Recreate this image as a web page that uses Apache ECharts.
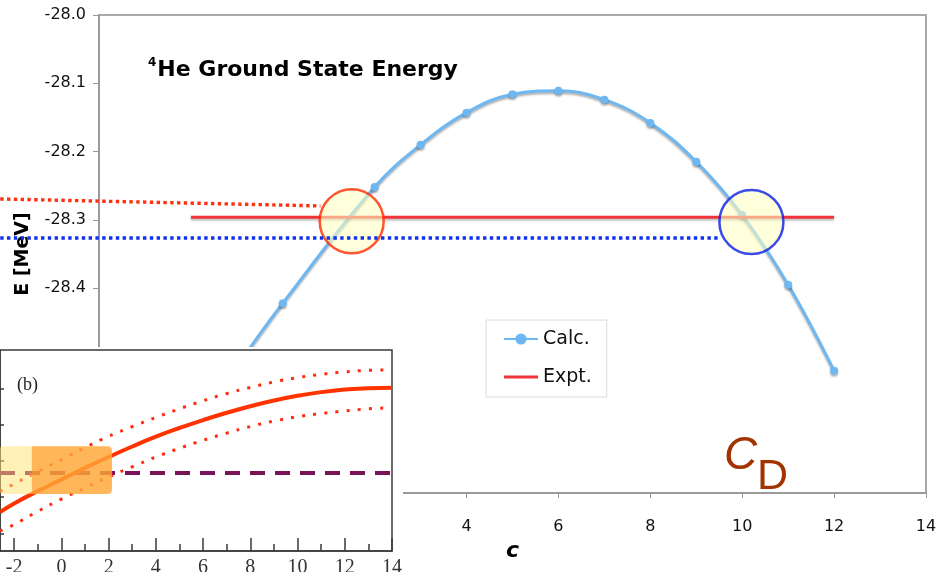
<!DOCTYPE html>
<html>
<head>
<meta charset="utf-8">
<script src="https://cdn.jsdelivr.net/npm/echarts@6/dist/echarts.min.js"></script>
<style>
  html, body { margin: 0; padding: 0; background: #fff; }
  #chart { width: 944px; height: 572px; }
</style>
</head>
<body>
<div id="chart"></div>
<script>
// ---- Main panel: 4He ground-state energy versus c ----
const cValues   = [-1, 0, 2, 3, 4, 5, 6, 7, 8, 9, 10, 11, 12];
const calcEnergy = [-28.515, -28.422, -28.252, -28.190, -28.143, -28.116, -28.111,
                    -28.124, -28.158, -28.215, -28.293, -28.395, -28.521];
const exptC      = [-2, 12];
const exptEnergy = -28.296;

const mainXTicks = [-4, -2, 0, 2, 4, 6, 8, 10, 12, 14];
const mainYTicks = [-28.7, -28.6, -28.5, -28.4, -28.3, -28.2, -28.1, -28.0];

// highlighted crossings of the calculation with experiment
const crossC = [1.50, 10.20];
const crossE = [-28.302, -28.303];

// dotted guide lines running off to the left edge of the page
const redGuideC  = [-6.15, 0.82];
const redGuideE  = [-28.2694, -28.2796];
const blueGuideC = [-6.15, 9.53];
const blueGuideE = [-28.3265, -28.3265];

// ---- Inset panel (b) ----
const insetC     = [-2.6, -2, -1, 0, 1, 2, 3, 4, 5, 6, 7, 8, 9, 10, 11, 12, 13, 14];
const insetMain  = [-1.41, -1.17, -0.83, -0.51, -0.19, 0.11, 0.40, 0.67, 0.91, 1.13,
                    1.33, 1.51, 1.67, 1.80, 1.90, 1.97, 2.01, 2.02];
const insetUpper = [-0.84, -0.63, -0.29, 0.04, 0.37, 0.68, 0.95, 1.20, 1.44, 1.66,
                    1.86, 2.03, 2.18, 2.30, 2.39, 2.46, 2.50, 2.51];
const insetLower = [-1.93, -1.75, -1.39, -1.05, -0.74, -0.44, -0.16, 0.11, 0.35, 0.57,
                    0.77, 0.95, 1.10, 1.22, 1.31, 1.38, 1.44, 1.47];
const insetExptLevel = -0.33;
const insetExptC = [-2.6, 14];
// shaded windows: [cFrom, cTo, yLow, yHigh]
const insetBands = [[-2.75, 2.14, -0.91, 0.41], [-1.25, 2.14, -0.91, 0.41]];
const insetMajorTicks = [-2, 0, 2, 4, 6, 8, 10, 12, 14];
const insetMinorTicks = [-1, 1, 3, 5, 7, 9, 11, 13];
const insetYTicks = [-2, -1, 0, 1, 2];

const zip = (xs, ys) => xs.map((x, i) => [x, ys[i]]);

const SANS = '"DejaVu Sans", Verdana, sans-serif';
const SERIF = '"Liberation Serif", "Times New Roman", serif';
const calcColor = '#6db8f3';
const exptColor = '#f0343a';

// main plot box
const W = 944, H = 572;
const mainLeft = 99, mainRight = 18, mainTop = 15, mainBottom = 79;
const xMin = mainXTicks[0], xMax = mainXTicks[mainXTicks.length - 1];
const pxPerC = (W - mainLeft - mainRight) / (xMax - xMin);
// same c scale, stretched out to the left page edge, for the guide lines
const guideXMin = xMin - mainLeft / pxPerC;

const chart = echarts.init(document.getElementById('chart'), null, { renderer: 'canvas' });

const hiddenAxis = { show: false, axisLine: { onZero: false }, splitLine: { show: false } };

const option = {
  backgroundColor: '#fff',
  animation: false,
  title: {
    left: 143,
    top: 52,
    text: '{s|4}{t|He Ground State Energy}',
    textStyle: {
      rich: {
        s: { fontFamily: SANS, fontSize: 12, fontWeight: 'bold', color: '#000', verticalAlign: 'top', lineHeight: 26, padding: [0, 1, 0, 0] },
        t: { fontFamily: SANS, fontSize: 22, fontWeight: 'bold', color: '#000', lineHeight: 26 }
      }
    }
  },
  legend: {
    orient: 'vertical',
    left: 486,
    top: 320,
    data: [
      { name: 'Calc.' },
      { name: 'Expt.', icon: 'path://M0,0 L34,0 L34,3 L0,3 Z' }
    ],
    backgroundColor: '#fff',
    borderColor: '#dcdcdc',
    borderWidth: 1,
    padding: [9, 15, 10, 17],
    itemGap: 18,
    itemWidth: 34,
    itemHeight: 14,
    textStyle: { fontFamily: SANS, fontSize: 19, lineHeight: 20, color: '#111' }
  },
  grid: [
    {
      left: mainLeft, right: mainRight, top: mainTop, bottom: mainBottom,
      outerBoundsMode: 'none',
      show: true, borderColor: '#a9a9a9', borderWidth: 2
    },
    {
      left: 0, width: 392, top: 350, height: 201,
      outerBoundsMode: 'none',
      show: true, backgroundColor: '#fff', borderColor: '#3a3a3a', borderWidth: 1.5,
      z: 60
    },
    {
      left: 0, right: mainRight, top: mainTop, bottom: mainBottom,
      outerBoundsMode: 'none'
    }
  ],
  xAxis: [
    {
      gridIndex: 0, type: 'value',
      min: xMin, max: xMax,
      interval: mainXTicks[1] - mainXTicks[0],
      name: 'c', nameLocation: 'middle', nameGap: 46,
      nameTextStyle: { fontFamily: SANS, fontSize: 22, fontWeight: 'bold', fontStyle: 'italic', color: '#000' },
      axisLine: { onZero: false, lineStyle: { color: '#9a9a9a', width: 2 } },
      axisTick: { show: true, length: 5, lineStyle: { color: '#9a9a9a', width: 1 } },
      axisLabel: { margin: 26, fontFamily: SANS, fontSize: 16, color: '#111' },
      splitLine: { show: false }
    },
    {
      gridIndex: 1, type: 'value', position: 'bottom',
      min: insetC[0], max: insetC[insetC.length - 1],
      axisLine: { onZero: false, lineStyle: { color: '#3a3a3a', width: 1.5 } },
      axisTick: { inside: true, length: 13, customValues: insetMajorTicks, lineStyle: { color: '#3a3a3a', width: 1.5 } },
      axisLabel: { customValues: insetMajorTicks, margin: 7, fontFamily: SERIF, fontSize: 20, color: '#333' },
      splitLine: { show: false },
      z: 70
    },
    {
      gridIndex: 1, type: 'value', position: 'bottom', offset: 0,
      min: insetC[0], max: insetC[insetC.length - 1],
      axisLine: { show: false, onZero: false },
      axisTick: { inside: true, length: 7, customValues: insetMinorTicks, lineStyle: { color: '#3a3a3a', width: 1.5 } },
      axisLabel: { show: false },
      splitLine: { show: false },
      z: 70
    },
    Object.assign({ gridIndex: 2, type: 'value', min: guideXMin, max: xMax }, hiddenAxis)
  ],
  yAxis: [
    {
      gridIndex: 0, type: 'value',
      min: mainYTicks[0], max: mainYTicks[mainYTicks.length - 1],
      interval: 0.1,
      name: 'E [MeV]', nameLocation: 'middle', nameRotate: 90, nameGap: 66,
      nameTextStyle: { fontFamily: SANS, fontSize: 19, fontWeight: 'bold', color: '#000' },
      axisLine: { show: true, onZero: false, lineStyle: { color: '#9a9a9a', width: 2 } },
      axisTick: { show: true, length: 6, lineStyle: { color: '#9a9a9a', width: 1 } },
      axisLabel: { margin: 13, fontFamily: SANS, fontSize: 16, color: '#111',
                   formatter: v => v.toFixed(1) },
      splitLine: { show: false }
    },
    {
      gridIndex: 1, type: 'value',
      min: -2.483, max: 3.062,
      axisLine: { show: true, onZero: false, lineStyle: { color: '#3a3a3a', width: 1.5 } },
      axisTick: { inside: true, length: 4, customValues: insetYTicks, lineStyle: { color: '#3a3a3a', width: 1.5 } },
      axisLabel: { show: false },
      splitLine: { show: false },
      z: 70
    },
    Object.assign({ gridIndex: 2, type: 'value', min: mainYTicks[0], max: mainYTicks[mainYTicks.length - 1] }, hiddenAxis)
  ],
  graphic: [
    // blank out the part of the main panel that sits under the inset
    {
      type: 'rect', z: 55, silent: true,
      shape: { x: 0, y: 347, width: 403, height: 225 },
      style: { fill: '#fff' }
    },
    {
      type: 'text', z: 90, left: 17, top: 376,
      style: { text: '(b)', font: '18px ' + SERIF, fill: '#222' }
    },
    {
      type: 'text', z: 20, x: 724, y: 479,
      style: { text: 'C', font: 'italic 46px "Liberation Sans", Arial, sans-serif', fill: '#a33300', verticalAlign: 'bottom' }
    },
    {
      type: 'text', z: 20, x: 757, y: 499,
      style: { text: 'D', font: '43px "Liberation Sans", Arial, sans-serif', fill: '#a33300', verticalAlign: 'bottom' }
    }
  ],
  series: [
    {
      name: 'Calc.', type: 'line', xAxisIndex: 0, yAxisIndex: 0,
      data: zip(cValues, calcEnergy),
      smooth: 0.4,
      symbol: 'circle', symbolSize: 8,
      z: 3,
      lineStyle: { color: calcColor, width: 3, shadowColor: 'rgba(0,0,0,0.3)', shadowBlur: 2, shadowOffsetY: 2 },
      itemStyle: { color: calcColor, shadowColor: 'rgba(0,0,0,0.3)', shadowBlur: 2, shadowOffsetY: 2 }
    },
    {
      name: 'Expt.', type: 'line', xAxisIndex: 0, yAxisIndex: 0,
      data: exptC.map(c => [c, exptEnergy]),
      symbol: 'none', z: 4,
      lineStyle: { color: exptColor, width: 3, shadowColor: 'rgba(0,0,0,0.25)', shadowBlur: 2, shadowOffsetY: 2 },
      itemStyle: { color: exptColor }
    },
    {
      name: 'crossings', type: 'scatter', xAxisIndex: 0, yAxisIndex: 0,
      data: [
        { value: [crossC[0], crossE[0]], itemStyle: { borderColor: '#ff2a00' } },
        { value: [crossC[1], crossE[1]], itemStyle: { borderColor: '#0a1de6' } }
      ],
      symbol: 'circle', symbolSize: 64, z: 8, silent: true,
      itemStyle: { color: 'rgba(255,255,195,0.72)', borderWidth: 2.5 }
    },
    {
      name: 'redGuide', type: 'line', xAxisIndex: 3, yAxisIndex: 2,
      data: zip(redGuideC, redGuideE),
      symbol: 'none', z: 9, silent: true,
      lineStyle: { color: '#ff3010', width: 3.4, type: [3.4, 3.4] }
    },
    {
      name: 'blueGuide', type: 'line', xAxisIndex: 3, yAxisIndex: 2,
      data: zip(blueGuideC, blueGuideE),
      symbol: 'none', z: 9, silent: true,
      lineStyle: { color: '#1030f0', width: 3.4, type: [3.4, 3.4] }
    },
    // inset (b)
    {
      name: 'insetExpt', type: 'line', xAxisIndex: 1, yAxisIndex: 1,
      data: insetExptC.map(c => [c, insetExptLevel]),
      symbol: 'none', z: 80, silent: true,
      lineStyle: { color: '#7a1458', width: 4, type: [15, 10] }
    },
    {
      name: 'insetMain', type: 'line', xAxisIndex: 1, yAxisIndex: 1,
      data: zip(insetC, insetMain), smooth: 0.5,
      symbol: 'none', z: 81, silent: true,
      lineStyle: { color: '#ff3300', width: 4 }
    },
    {
      name: 'insetUpper', type: 'line', xAxisIndex: 1, yAxisIndex: 1,
      data: zip(insetC, insetUpper), smooth: 0.5,
      symbol: 'none', z: 81, silent: true,
      lineStyle: { color: '#ff2a10', width: 3, type: [3, 8.2] }
    },
    {
      name: 'insetLower', type: 'line', xAxisIndex: 1, yAxisIndex: 1,
      data: zip(insetC, insetLower), smooth: 0.5,
      symbol: 'none', z: 81, silent: true,
      lineStyle: { color: '#ff2a10', width: 3, type: [3, 8.2] }
    },
    {
      name: 'insetBands', type: 'custom', xAxisIndex: 1, yAxisIndex: 1,
      data: insetBands, z: 85, silent: true, clip: true,
      renderItem: (params, api) => {
        const p0 = api.coord([api.value(0), api.value(3)]);
        const p1 = api.coord([api.value(1), api.value(2)]);
        const first = params.dataIndex === 0;
        return {
          type: 'rect',
          shape: { x: p0[0], y: p0[1], width: p1[0] - p0[0], height: p1[1] - p0[1], r: first ? 8 : [0, 4, 4, 0] },
          style: { fill: first ? 'rgba(255,226,110,0.5)' : 'rgba(255,150,40,0.65)' }
        };
      }
    }
  ]
};

chart.setOption(option);
</script>
</body>
</html>
